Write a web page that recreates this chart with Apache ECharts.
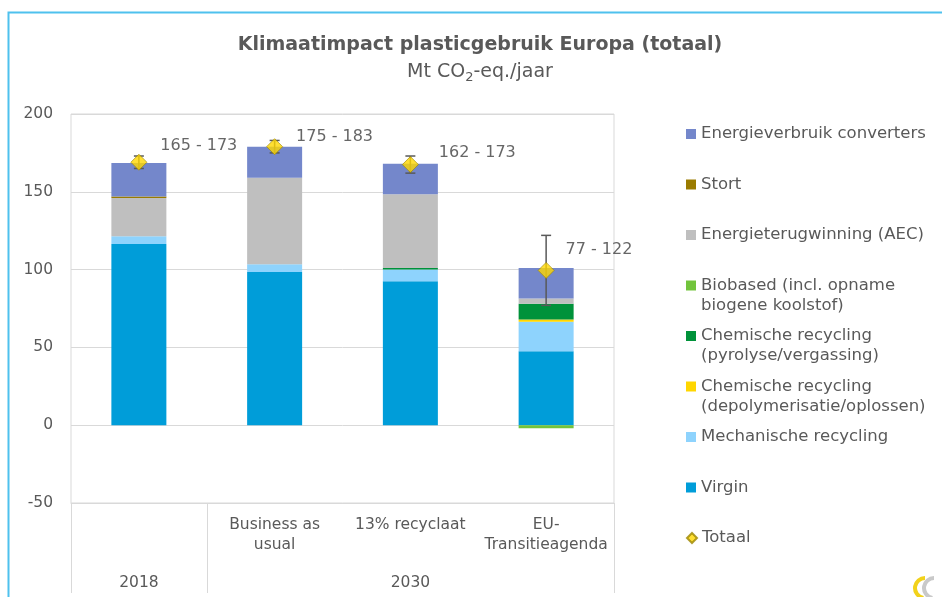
<!DOCTYPE html>
<html>
<head>
<meta charset="utf-8">
<title>Klimaatimpact plasticgebruik Europa</title>
<script src="https://cdn.jsdelivr.net/npm/echarts@6/dist/echarts.min.js"></script>
<style>
  html, body { margin: 0; padding: 0; background: #fff; }
  #chart { width: 942px; height: 597px; }
</style>
</head>
<body>
<div id="chart"></div>
<script>
// categories (first level) and the year groups under them
var xLabels = ['', 'Business as\nusual', '13% recyclaat', 'EU-\nTransitieagenda'];
var yearLabels = ['2018', '', '2030', ''];

// stacked components, bottom to top (Mt CO2-eq./jaar)
var virgin   = [116.5, 98.5, 92.5, 47.5];
var mech     = [5, 5, 7.5, 19];
var depoly   = [0, 0, 0, 1.5];
var pyro     = [0, 0, 1, 10];
var biobased = [0, 0, 0, -2];
var aec      = [24.5, 55.5, 47.5, 3.5];
var stort    = [1, 0, 0, 0];
var energie  = [21.5, 20, 19.5, 19.5];

// totals with uncertainty range
var totaal    = [169, 179, 167.5, 99.5];
var totaalLow = [165, 175, 162, 77];
var totaalHigh = [173, 183, 173, 122];

var seriesNames = [
  'Virgin',
  'Mechanische recycling',
  'Chemische recycling (depolymerisatie/oplossen)',
  'Chemische recycling (pyrolyse/vergassing)',
  'Biobased (incl. opname biogene koolstof)',
  'Energieterugwinning (AEC)',
  'Stort',
  'Energieverbruik converters'
];
var legendText = [
  'Virgin',
  'Mechanische recycling',
  'Chemische recycling\n(depolymerisatie/oplossen)',
  'Chemische recycling\n(pyrolyse/vergassing)',
  'Biobased (incl. opname\nbiogene koolstof)',
  'Energieterugwinning (AEC)',
  'Stort',
  'Energieverbruik converters'
];
var colors = ['#009DD9', '#8ED3FD', '#FFD600', '#00923A', '#72C43C', '#BFBFBF', '#9A7B00', '#7487CB'];
var stackValues = [virgin, mech, depoly, pyro, biobased, aec, stort, energie];

// small nudges for the range labels (styling only)
var labelNudge = [[8, -16], [8, -10], [15, -12], [6, -21]];

var FONT = "'DejaVu Sans', sans-serif";
var GREY = '#595959';

var chart = echarts.init(document.getElementById('chart'));

var series = stackValues.map(function (vals, k) {
  return {
    name: seriesNames[k],
    type: 'bar',
    stack: 'total',
    barWidth: 55,
    data: vals,
    itemStyle: { color: colors[k] },
    emphasis: { disabled: true }
  };
});

series.push({
  name: 'Foutmarge',
  type: 'custom',
  z: 4,
  data: totaalLow.map(function (lo, i) { return [i, lo, totaalHigh[i]]; }),
  encode: { x: 0, y: [1, 2] },
  renderItem: function (params, api) {
    var i = api.value(0);
    var lo = api.coord([i, api.value(1)]);
    var hi = api.coord([i, api.value(2)]);
    var w = 5;
    var st = { stroke: GREY, lineWidth: 1.5, fill: null };
    return {
      type: 'group',
      children: [
        { type: 'line', shape: { x1: lo[0], y1: lo[1], x2: hi[0], y2: hi[1] }, style: st },
        { type: 'line', shape: { x1: lo[0] - w, y1: lo[1], x2: lo[0] + w, y2: lo[1] }, style: st },
        { type: 'line', shape: { x1: hi[0] - w, y1: hi[1], x2: hi[0] + w, y2: hi[1] }, style: st }
      ]
    };
  }
});

series.push({
  name: 'Totaal',
  type: 'scatter',
  z: 5,
  symbol: 'diamond',
  symbolSize: 16,
  itemStyle: { color: '#FFD700', borderColor: '#9C8600', borderWidth: 0.8 },
  data: totaal.map(function (v, i) {
    return { value: v, label: { offset: labelNudge[i] } };
  }),
  label: {
    show: true,
    position: 'right',
    distance: 5,
    fontFamily: FONT,
    fontSize: 16,
    color: '#404040',
    formatter: function (p) {
      return totaalLow[p.dataIndex] + ' - ' + totaalHigh[p.dataIndex];
    }
  },
  emphasis: { disabled: true }
});

// legend: one block per entry so every entry sits on the same pitch
var legendOrder = [7, 6, 5, 4, 3, 2, 1, 0, -1];
var legends = legendOrder.map(function (k, i) {
  var name = k < 0 ? 'Totaal' : seriesNames[k];
  var text = k < 0 ? 'Totaal' : legendText[k];
  var n = text.split('\n').length;
  var prefix = new Array(n).join('\n');
  return {
    data: [name],
    orient: 'vertical',
    left: 686,
    top: 124 + 50.5 * i - (n - 1) * 20,
    padding: 0,
    itemWidth: 10,
    itemHeight: 10,
    icon: k < 0 ? 'diamond' : 'rect',
    selectedMode: false,
    formatter: function () { return prefix + text; },
    textStyle: { fontFamily: FONT, fontSize: 16.5, lineHeight: 20, color: GREY }
  };
});

var option = {
  animation: false,
  textStyle: { fontFamily: FONT },
  title: {
    text: 'Klimaatimpact plasticgebruik Europa (totaal)',
    subtext: 'Mt CO{s|2}-eq./jaar',
    left: 480,
    top: 33,
    textAlign: 'center',
    padding: 0,
    itemGap: 3,
    textStyle: { fontFamily: FONT, fontSize: 19, fontWeight: 'bold', color: GREY, lineHeight: 24 },
    subtextStyle: {
      fontFamily: FONT, fontSize: 19, color: GREY, lineHeight: 24,
      rich: { s: { fontFamily: FONT, fontSize: 13, color: GREY, lineHeight: 14, verticalAlign: 'bottom' } }
    }
  },
  legend: legends,
  graphic: [{
    type: 'rect',
    silent: true,
    shape: { x: 8.5, y: 12.5, width: 1000, height: 1000 },
    style: { fill: null, stroke: '#4FC1EE', lineWidth: 2 }
  }, {
    // corner logo, roughly
    type: 'group',
    silent: true,
    children: [
      { type: 'arc', shape: { cx: 925, cy: 588, r: 10, startAngle: Math.PI * 0.55, endAngle: Math.PI * 1.5 },
        style: { stroke: '#F2D21B', lineWidth: 4, fill: null } },
      { type: 'arc', shape: { cx: 934, cy: 588, r: 10, startAngle: Math.PI * 0.55, endAngle: Math.PI * 1.5 },
        style: { stroke: '#C9C9C9', lineWidth: 4, fill: null } }
    ]
  }],
  grid: {
    left: 71,
    right: 328,
    top: 114,
    bottom: 94,
    show: true,
    borderColor: '#D9D9D9',
    borderWidth: 1,
    backgroundColor: 'transparent'
  },
  xAxis: [{
    type: 'category',
    data: xLabels,
    position: 'bottom',
    axisLine: { onZero: false, lineStyle: { color: '#D9D9D9' } },
    axisTick: { show: false },
    axisLabel: { interval: 0, margin: 12, fontFamily: FONT, fontSize: 15.5, lineHeight: 20, color: GREY }
  }, {
    type: 'category',
    data: yearLabels,
    position: 'bottom',
    axisLine: { show: false, onZero: false },
    axisTick: {
      show: true,
      length: 90,
      interval: function (idx) { return idx < 2; },
      lineStyle: { color: '#D9D9D9' }
    },
    axisLabel: { interval: 0, margin: 70, fontFamily: FONT, fontSize: 15.5, lineHeight: 20, color: GREY }
  }],
  yAxis: {
    type: 'value',
    min: -50,
    max: 200,
    interval: 50,
    axisLine: { show: false },
    axisTick: { show: false },
    axisLabel: { margin: 18, fontFamily: FONT, fontSize: 15.5, color: GREY },
    splitLine: { lineStyle: { color: '#D9D9D9' } }
  },
  series: series
};

chart.setOption(option);
</script>
</body>
</html>
